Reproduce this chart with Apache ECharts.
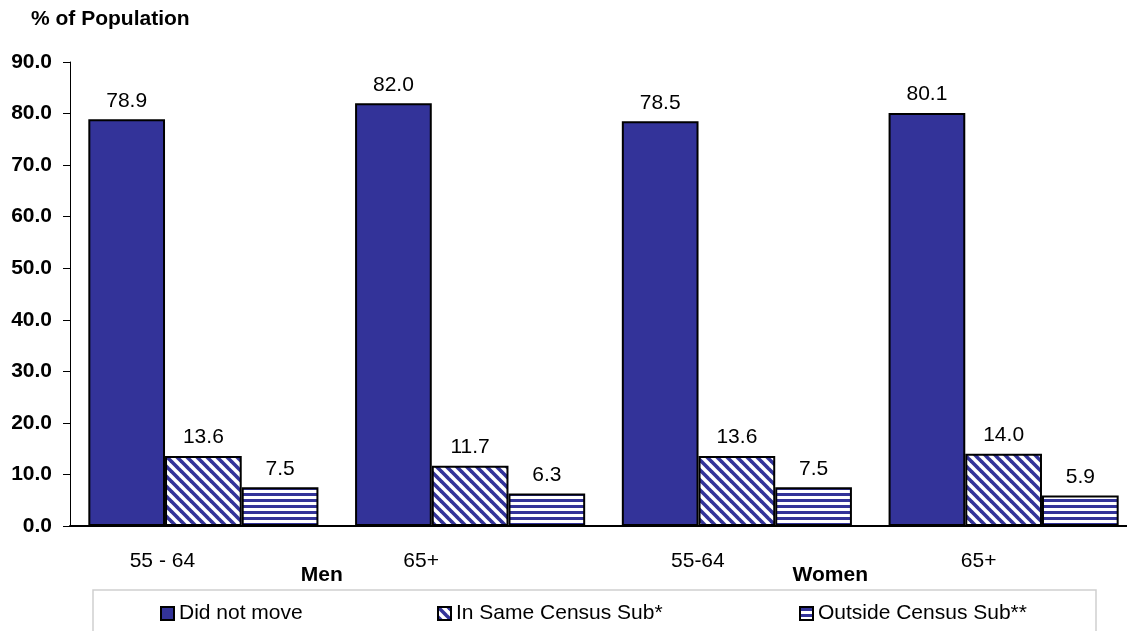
<!DOCTYPE html>
<html>
<head>
<meta charset="utf-8">
<script src="https://cdn.jsdelivr.net/npm/echarts@6/dist/echarts.min.js"></script>
<style>
  html, body { margin: 0; padding: 0; background: #fff; overflow: hidden; }
  /* the plot runs slightly past the right edge of the page */
  #chart { width: 1140px; height: 631px; }
</style>
</head>
<body>
<div id="chart"></div>
<script>
// Age groups along the x axis, and the sex groups they belong to
const categories = ['55 - 64', '65+', '55-64', '65+'];
const groups = ['Men', 'Women'];

// Share of population (%) by mobility status
const didNotMove = [78.9, 82.0, 78.5, 80.1];
const sameCensusSub = [13.6, 11.7, 13.6, 14.0];
const outsideCensusSub = [7.5, 6.3, 7.5, 5.9];

const seriesNames = ['Did not move', 'In Same Census Sub*', 'Outside Census Sub**'];

const NAVY = '#333399';
const FONT = "'Liberation Sans', Arial, sans-serif";
const FS = 21;

// Fill patterns: diagonal "\" hatch and horizontal stripes
function diagonalPattern() {
  const c = document.createElement('canvas');
  c.width = 10; c.height = 10;
  const g = c.getContext('2d');
  g.fillStyle = '#fff';
  g.fillRect(0, 0, 10, 10);
  g.strokeStyle = NAVY;
  g.lineWidth = 3.6;
  for (const off of [-10, 0, 10]) {
    g.beginPath();
    g.moveTo(off - 5, -5);
    g.lineTo(off + 15, 15);
    g.stroke();
  }
  return c;
}
function horizontalPattern() {
  const c = document.createElement('canvas');
  c.width = 4; c.height = 6;
  const g = c.getContext('2d');
  g.fillStyle = '#fff';
  g.fillRect(0, 0, 4, 6);
  g.fillStyle = NAVY;
  g.fillRect(0, 1, 4, 3);
  return c;
}

// Horizontal shifts of tick labels relative to the category centre
const ageLabelShift = [41, 49, 39, 25];
const groupLabelShift = [15, 40];

function richShift(shifts, extra) {
  const r = {};
  shifts.forEach((s, i) => {
    r['p' + i] = Object.assign({ padding: [0, 2 * s, 0, 0] }, extra);
  });
  return r;
}

const chart = echarts.init(document.getElementById('chart'), null, { renderer: 'canvas' });

const barLabel = {
  show: true,
  position: 'top',
  distance: 8,
  color: '#000',
  fontSize: FS,
  fontFamily: FONT,
  formatter: p => p.value.toFixed(1)
};
const barBorder = { borderColor: '#000', borderWidth: 2 };

const legendCommon = {
  top: 603,
  padding: 0,
  icon: 'rect',
  itemWidth: 13,
  itemHeight: 13,
  z: 10,
  itemStyle: { borderColor: '#000', borderWidth: 2 },
  textStyle: { color: '#000', fontSize: FS, fontFamily: FONT }
};

chart.setOption({
  animation: false,
  backgroundColor: '#fff',
  textStyle: { fontFamily: FONT },
  title: {
    text: '% of Population',
    left: 31,
    top: 9,
    padding: 0,
    textStyle: { fontSize: FS, fontWeight: 'bold', color: '#000', fontFamily: FONT }
  },
  graphic: [{
    type: 'rect',
    z: 0,
    shape: { x: 93, y: 590, width: 1003, height: 60 },
    style: { fill: '#fff', stroke: '#cfcfcf', lineWidth: 1.5 }
  }],
  legend: [
    Object.assign({ left: 160, data: [seriesNames[0]] }, legendCommon),
    Object.assign({ left: 437, data: [seriesNames[1]] }, legendCommon),
    Object.assign({ left: 799, data: [seriesNames[2]] }, legendCommon)
  ],
  grid: { left: 70, right: 3, top: 62, bottom: 105, containLabel: false },
  xAxis: [
    {
      type: 'category',
      data: categories,
      position: 'bottom',
      axisLine: { show: true, lineStyle: { color: '#000', width: 2 } },
      axisTick: { show: false },
      axisLabel: {
        interval: 0,
        margin: 25,
        color: '#000',
        fontSize: FS,
        fontFamily: FONT,
        formatter: (v, i) => '{p' + i + '|' + v + '}',
        rich: richShift(ageLabelShift, { fontSize: FS, fontFamily: FONT, color: '#000' })
      }
    },
    {
      type: 'category',
      data: groups,
      position: 'bottom',
      axisLine: { show: false },
      axisTick: { show: false },
      axisLabel: {
        interval: 0,
        margin: 39,
        color: '#000',
        fontSize: FS,
        fontWeight: 'bold',
        fontFamily: FONT,
        formatter: (v, i) => '{p' + i + '|' + v + '}',
        rich: richShift(groupLabelShift, { fontSize: FS, fontWeight: 'bold', fontFamily: FONT, color: '#000' })
      }
    }
  ],
  yAxis: {
    type: 'value',
    min: 0,
    max: 90,
    interval: 10,
    axisLine: { show: true, lineStyle: { color: '#000', width: 1 } },
    axisTick: { show: true, inside: false, length: 7, lineStyle: { color: '#000', width: 1 } },
    splitLine: { show: false },
    axisLabel: {
      margin: 18,
      color: '#000',
      fontSize: FS,
      fontWeight: 'bold',
      fontFamily: FONT,
      formatter: v => v.toFixed(1)
    }
  },
  series: [
    {
      name: seriesNames[0],
      type: 'bar',
      xAxisIndex: 0,
      data: didNotMove,
      barWidth: 76.7,
      barGap: '0%',
      itemStyle: Object.assign({ color: NAVY }, barBorder),
      label: barLabel
    },
    {
      name: seriesNames[1],
      type: 'bar',
      xAxisIndex: 0,
      data: sameCensusSub,
      barWidth: 76.7,
      barGap: '0%',
      itemStyle: Object.assign({ color: { image: diagonalPattern(), repeat: 'repeat' } }, barBorder),
      label: barLabel
    },
    {
      name: seriesNames[2],
      type: 'bar',
      xAxisIndex: 0,
      data: outsideCensusSub,
      barWidth: 76.7,
      barGap: '0%',
      itemStyle: Object.assign({ color: { image: horizontalPattern(), repeat: 'repeat' } }, barBorder),
      label: barLabel
    }
  ]
});
</script>
</body>
</html>
